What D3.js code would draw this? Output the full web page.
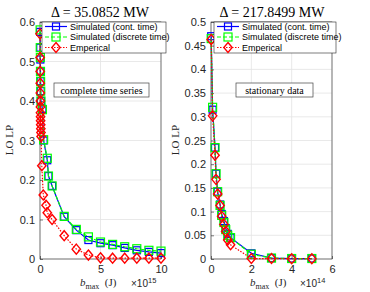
<!DOCTYPE html>
<html>
<head>
<meta charset="utf-8">
<script src="https://cdn.jsdelivr.net/npm/d3@7"></script>
<style>
  body { margin: 0; background: #fff; }
  svg { display: block; }
</style>
</head>
<body>
<div id="chart"></div>
<script>
// ---- data (x in units of the panel's exponent) ----
const seriesNames = ["Simulated (cont. time)", "Simulated (discrete time)", "Emperical"];

// left panel: complete time series, x in 1e15 J
const leftSimX = [0.01, 0.02, 0.03, 0.04, 0.05, 0.06, 0.08, 0.2, 0.3, 0.6, 0.7, 1, 2, 3, 4, 5, 6, 7, 8, 9, 10];
const leftCont = [0.575, 0.535, 0.505, 0.475, 0.45, 0.425, 0.40, 0.38, 0.30, 0.25, 0.21, 0.185, 0.107, 0.073, 0.048, 0.04, 0.035, 0.028, 0.022, 0.018, 0.015];
const leftDisc = [0.58, 0.535, 0.51, 0.475, 0.45, 0.425, 0.40, 0.378, 0.302, 0.255, 0.21, 0.185, 0.108, 0.075, 0.056, 0.043, 0.037, 0.031, 0.026, 0.022, 0.02];
const leftEmpX = [0.005, 0.01, 0.015, 0.02, 0.025, 0.03, 0.035, 0.04, 0.045, 0.05, 0.06, 0.07, 0.08, 0.09, 0.15, 0.27, 0.5, 0.6, 1, 2, 3, 4, 5, 6, 7, 8, 9, 10];
const leftEmp = [0.57, 0.51, 0.475, 0.445, 0.42, 0.40, 0.385, 0.37, 0.36, 0.35, 0.34, 0.33, 0.32, 0.31, 0.236, 0.162, 0.136, 0.117, 0.10, 0.059, 0.025, 0.01, 0.003, 0.002, 0.002, 0.002, 0.002, 0.002];
const leftXTicks = [0, 5, 10];
const leftYTicks = [0, 0.1, 0.2, 0.3, 0.4, 0.5, 0.6];

// right panel: stationary data, x in 1e14 J
const rightX = [0.01, 0.08, 0.2, 0.25, 0.33, 0.45, 0.53, 0.64, 0.73, 0.83, 0.97, 2, 3, 4, 5];
const rightCont = [0.47, 0.315, 0.235, 0.18, 0.142, 0.115, 0.095, 0.08, 0.065, 0.053, 0.045, 0.012, 0.002, 0.001, 0.001];
const rightDisc = [0.465, 0.32, 0.235, 0.18, 0.142, 0.113, 0.092, 0.077, 0.062, 0.05, 0.045, 0.01, 0.002, 0.001, 0.001];
const rightEmp = [0.463, 0.302, 0.219, 0.168, 0.137, 0.113, 0.09, 0.073, 0.058, 0.04, 0.03, 0.001, 0.001, 0.0005, 0.0005];
const rightXTicks = [0, 2, 4, 6];
const rightYTicks = [0, 0.05, 0.1, 0.15, 0.2, 0.25, 0.3, 0.35, 0.4, 0.45, 0.5];

const W = 370, H = 292;
const svg = d3.select("#chart").append("svg").attr("width", W).attr("height", H);

const serif = "'Liberation Serif', 'DejaVu Serif', serif";
const sans = "'Liberation Sans', Arial, sans-serif";
const axisColor = "#262626";

const styles = [
  {color: "#0000ff", dash: null, marker: "square", size: 7, width: 1.2},
  {color: "#00ff00", dash: "4,2", marker: "square", size: 8, width: 1.2},
  {color: "#ff0000", dash: "1.5,1.5", marker: "diamond", size: 10, width: 1.2}
];

function marker(g, type, x, y, s, color) {
  if (type === "square") {
    g.append("rect").attr("x", x - s / 2).attr("y", y - s / 2)
      .attr("width", s).attr("height", s)
      .attr("fill", "none").attr("stroke", color).attr("stroke-width", 1.2);
  } else {
    const h = s / 2, w = s * 0.42;
    g.append("path").attr("d", `M${x},${y - h}L${x + w},${y}L${x},${y + h}L${x - w},${y}Z`)
      .attr("fill", "none").attr("stroke", color).attr("stroke-width", 1.4);
  }
}

function drawPanel(cfg) {
  const x = d3.scaleLinear().domain(cfg.xDomain).range([cfg.left, cfg.right]);
  const y = d3.scaleLinear().domain(cfg.yDomain).range([cfg.bottom, cfg.top]);
  const g = svg.append("g");

  // grid
  g.selectAll(null).data(cfg.xTicks).enter().append("line")
    .attr("x1", d => x(d)).attr("x2", d => x(d))
    .attr("y1", cfg.top).attr("y2", cfg.bottom)
    .attr("stroke", "#e3e3e3").attr("stroke-width", 0.8);
  g.selectAll(null).data(cfg.yTicks).enter().append("line")
    .attr("y1", d => y(d)).attr("y2", d => y(d))
    .attr("x1", cfg.left).attr("x2", cfg.right)
    .attr("stroke", "#e3e3e3").attr("stroke-width", 0.8);

  // axes (ticks pointing inward, box)
  const xa = g.append("g").attr("transform", `translate(0,${cfg.bottom})`)
    .call(d3.axisBottom(x).tickValues(cfg.xTicks).tickSize(-3).tickPadding(6).tickFormat(d3.format("")));
  const ya = g.append("g").attr("transform", `translate(${cfg.left},0)`)
    .call(d3.axisLeft(y).tickValues(cfg.yTicks).tickSize(-3).tickPadding(5).tickFormat(d => d === 0 ? "0" : String(+d.toFixed(2))));
  [xa, ya].forEach(a => {
    a.select(".domain").remove();
    a.selectAll("line").attr("stroke", axisColor).attr("stroke-width", 0.6);
    a.selectAll("text").attr("fill", axisColor).style("font-family", sans).style("font-size", "11px");
  });
  g.append("rect").attr("x", cfg.left).attr("y", cfg.top)
    .attr("width", cfg.right - cfg.left).attr("height", cfg.bottom - cfg.top)
    .attr("fill", "none").attr("stroke", axisColor).attr("stroke-width", 0.6);

  // series
  const clip = g.append("g");
  cfg.series.forEach((s, i) => {
    const st = styles[i];
    const pts = s.xs.map((d, j) => [x(d), y(s.ys[j])]);
    clip.append("path").attr("d", d3.line()(pts))
      .attr("fill", "none").attr("stroke", st.color).attr("stroke-width", st.width)
      .attr("stroke-dasharray", st.dash);
    pts.forEach(p => marker(clip, st.marker, p[0], p[1], st.size, st.color));
  });

  // title
  g.append("text").attr("x", cfg.titleX).attr("y", 17).attr("text-anchor", "middle")
    .style("font-family", serif).style("font-size", "14px").attr("fill", "#000")
    .text(cfg.title);

  // y label
  g.append("text").attr("transform", `translate(${cfg.ylabelX},140) rotate(-90)`)
    .attr("text-anchor", "middle")
    .style("font-family", serif).style("font-size", "11px").attr("fill", axisColor)
    .text("LO LP");

  // x label
  const xl = g.append("text").attr("x", cfg.xlabelX).attr("y", 286)
    .style("font-family", serif).style("font-size", "11px").attr("fill", axisColor);
  xl.append("tspan").style("font-style", "italic").text("b");
  xl.append("tspan").attr("dy", 2.5).style("font-size", "8px").text("max");
  xl.append("tspan").attr("dy", -2.5).text("\u2002(J)");

  const ex = g.append("text").attr("x", cfg.expX).attr("y", 287)
    .style("font-family", sans).style("font-size", "10px").attr("fill", axisColor);
  ex.append("tspan").text("\u00d710");
  ex.append("tspan").attr("dy", -4).style("font-size", "7.5px").text(cfg.exp);

  // annotation box
  const ab = cfg.annot;
  g.append("rect").attr("x", ab.x).attr("y", ab.y).attr("width", ab.w).attr("height", 14)
    .attr("fill", "#fff").attr("stroke", "#444").attr("stroke-width", 0.7);
  g.append("text").attr("x", ab.x + ab.w / 2).attr("y", ab.y + 10.5).attr("text-anchor", "middle")
    .style("font-family", serif).style("font-size", "10px").attr("fill", "#000").text(ab.text);

  // legend
  const lg = cfg.legend;
  g.append("rect").attr("x", lg.x).attr("y", cfg.top).attr("width", lg.w).attr("height", 31)
    .attr("fill", "#fff").attr("stroke", axisColor).attr("stroke-width", 0.6);
  seriesNames.forEach((name, i) => {
    const st = styles[i];
    const ly = cfg.top + 4.5 + i * 10.5;
    g.append("line").attr("x1", lg.x + 3).attr("x2", lg.x + 25).attr("y1", ly).attr("y2", ly)
      .attr("stroke", st.color).attr("stroke-width", st.width).attr("stroke-dasharray", st.dash);
    marker(g, st.marker, lg.x + 14, ly, st.size, st.color);
    g.append("text").attr("x", lg.x + 28).attr("y", ly + 3.3)
      .style("font-family", sans).style("font-size", "9px").attr("fill", "#000").text(name);
  });
}

drawPanel({
  left: 40, right: 161, top: 22, bottom: 259,
  xDomain: [0, 10], yDomain: [0, 0.6],
  xTicks: leftXTicks, yTicks: leftYTicks,
  series: [{xs: leftSimX, ys: leftCont}, {xs: leftSimX, ys: leftDisc}, {xs: leftEmpX, ys: leftEmp}],
  title: "\u0394 = 35.0852 MW", titleX: 100,
  ylabelX: 13, xlabelX: 80, expX: 131, exp: "15",
  annot: {x: 54, y: 83, w: 95, text: "complete time series"},
  legend: {x: 42, w: 124}
});

drawPanel({
  left: 211, right: 332, top: 22, bottom: 259,
  xDomain: [0, 6], yDomain: [0, 0.5],
  xTicks: rightXTicks, yTicks: rightYTicks,
  series: [{xs: rightX, ys: rightCont}, {xs: rightX, ys: rightDisc}, {xs: rightX, ys: rightEmp}],
  title: "\u0394 = 217.8499 MW", titleX: 272,
  ylabelX: 179, xlabelX: 250, expX: 300, exp: "14",
  annot: {x: 236, y: 83, w: 77, text: "stationary data"},
  legend: {x: 214, w: 122}
});
</script>
</body>
</html>
